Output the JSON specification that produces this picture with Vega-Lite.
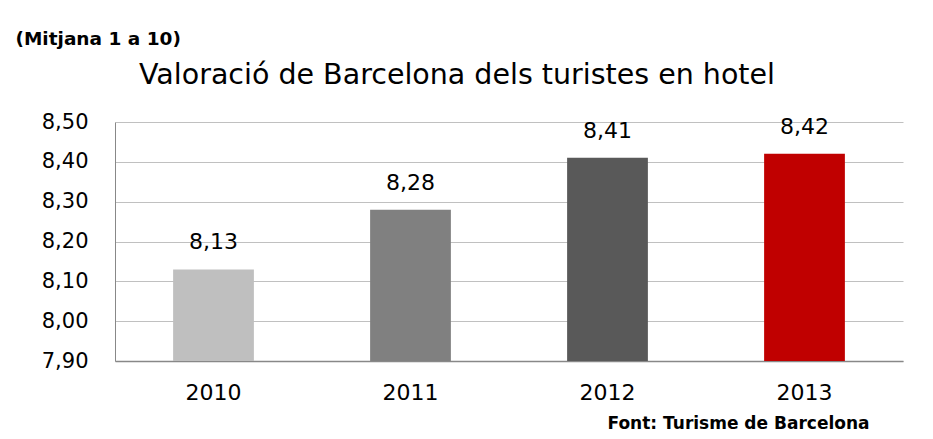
{
  "$schema": "https://vega.github.io/schema/vega-lite/v6.json",
  "width": 788,
  "height": 239,
  "autosize": {"type": "none"},
  "padding": {"left": 115, "top": 122, "right": 30, "bottom": 78},
  "background": "white",
  "title": {
    "text": "Valoració de Barcelona dels turistes en hotel",
    "anchor": "middle",
    "frame": "group",
    "font": "DejaVu Sans",
    "fontSize": 28.5,
    "fontWeight": "normal",
    "color": "black",
    "baseline": "bottom",
    "offset": -89,
    "dx": -52
  },
  "data": {
    "values": [
      {"year": "2010", "value": 8.13},
      {"year": "2011", "value": 8.28},
      {"year": "2012", "value": 8.41},
      {"year": "2013", "value": 8.42}
    ]
  },
  "encoding": {
    "x": {
      "field": "year",
      "type": "nominal",
      "scale": {"paddingInner": 0.59, "paddingOuter": 0.295},
      "axis": {
        "title": "Font: Turisme de Barcelona",
        "titleFont": "DejaVu Sans",
        "titleFontSize": 17,
        "titleFontWeight": "bold",
        "titleColor": "black",
        "titleX": 492,
        "titleY": 62,
        "titleAlign": "left",
        "titleAnchor": null,
        "titleBaseline": "middle",
        "labelAngle": 0,
        "labelFont": "DejaVu Sans",
        "labelFontSize": 22,
        "labelColor": "black",
        "labelPadding": 21,
        "ticks": false,
        "domainColor": "#888888",
        "domainWidth": 1.5
      }
    },
    "y": {
      "field": "value",
      "type": "quantitative",
      "scale": {"domain": [7.9, 8.5], "zero": false, "nice": false},
      "axis": {
        "values": [7.9, 8.0, 8.1, 8.2, 8.3, 8.4, 8.5],
        "labelExpr": "replace(format(datum.value, '.2f'), '.', ',')",
        "labelFont": "DejaVu Sans",
        "labelFontSize": 21,
        "labelColor": "black",
        "labelPadding": 27,
        "ticks": false,
        "domainColor": "#888888",
        "gridColor": "#c0c0c0",
        "grid": true,
        "title": "(Mitjana 1 a 10)",
        "titleAngle": 0,
        "titleX": -100,
        "titleY": -84,
        "titleAlign": "left",
        "titleAnchor": null,
        "titleBaseline": "middle",
        "titleFont": "DejaVu Sans",
        "titleFontSize": 18.5,
        "titleFontWeight": "bold",
        "titleColor": "black"
      }
    }
  },
  "layer": [
    {
      "mark": {"type": "bar", "clip": true},
      "encoding": {
        "color": {
          "field": "year",
          "type": "nominal",
          "scale": {"domain": ["2010", "2011", "2012", "2013"], "range": ["#bfbfbf", "#808080", "#595959", "#c00000"]},
          "legend": null
        }
      }
    },
    {
      "mark": {"type": "text", "baseline": "bottom", "dy": -15, "font": "DejaVu Sans", "fontSize": 22, "color": "black"},
      "encoding": {
        "text": {"field": "value", "type": "quantitative", "format": ".2f"}
      }
    }
  ],
  "config": {
    "view": {"stroke": null},
    "locale": {"number": {"decimal": ",", "thousands": ".", "grouping": [3], "currency": ["", " €"]}}
  }
}
